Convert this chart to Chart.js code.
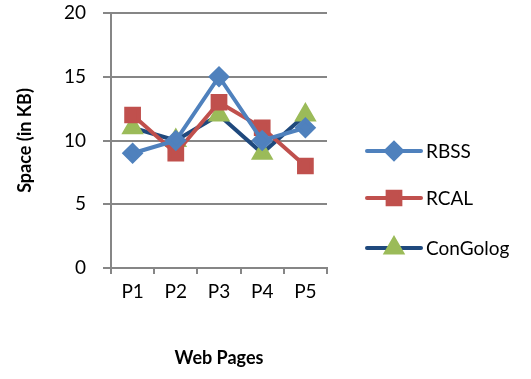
<!DOCTYPE html>
<html lang="en">
<head>
  <meta charset="UTF-8">
  <title>Space per Web Page</title>
  <script src="https://cdn.jsdelivr.net/npm/chart.js"></script>
  <style>
    * { margin: 0; padding: 0; }
    body { background: #ffffff; width: 531px; height: 379px; overflow: hidden; }
    #wrap { position: relative; width: 531px; height: 379px; }
  </style>
</head>
<body>
  <div id="wrap"><canvas id="chart" width="531" height="379"></canvas></div>
  <script>
    const pages = ['P1', 'P2', 'P3', 'P4', 'P5'];
    const rbss = [9, 10, 15, 10, 11];
    const rcal = [12, 9, 13, 11, 8];
    const congolog = [11, 10, 12, 9, 12];
    const yTicks = [0, 5, 10, 15, 20];

    const FONT = 'Lato, "Open Sans", sans-serif';
    const axisGrey = '#868686';

    // legend drawn as line + marker, like the office-style key
    const legendPlugin = {
      id: 'sideLegend',
      afterDraw(chart) {
        const ctx = chart.ctx;
        const area = chart.chartArea;
        const x0 = area.right + 40;
        const rows = [151, 198, 248];
        chart.data.datasets.forEach((ds, i) => {
          const y = rows[i];
          ctx.save();
          ctx.strokeStyle = ds.borderColor;
          ctx.lineWidth = 4;
          ctx.lineCap = 'round';
          ctx.beginPath();
          ctx.moveTo(x0, y);
          ctx.lineTo(x0 + 54, y);
          ctx.stroke();
          ctx.fillStyle = ds.pointBackgroundColor;
          ctx.strokeStyle = ds.pointBorderColor;
          Chart.helpers.drawPoint(ctx, {
            pointStyle: ds.pointStyle,
            radius: ds.pointRadius,
            borderWidth: 1
          }, x0 + 27, y);
          ctx.fillStyle = '#000000';
          ctx.font = '19px ' + FONT;
          ctx.textBaseline = 'middle';
          ctx.fillText(ds.label, x0 + 59, y + 1);
          ctx.restore();
        });
      }
    };

    new Chart(document.getElementById('chart').getContext('2d'), {
      type: 'line',
      data: {
        labels: pages,
        datasets: [
          {
            label: 'RBSS', data: rbss,
            borderColor: '#4F81BD', borderWidth: 4,
            pointStyle: 'rectRot', pointRadius: 8,
            pointBackgroundColor: '#4F81BD', pointBorderColor: '#4F81BD'
          },
          {
            label: 'RCAL', data: rcal,
            borderColor: '#C0504D', borderWidth: 4,
            pointStyle: 'rect', pointRadius: 9,
            pointBackgroundColor: '#C0504D', pointBorderColor: '#C0504D'
          },
          {
            label: 'ConGolog', data: congolog,
            borderColor: '#1F497D', borderWidth: 4,
            pointStyle: 'triangle', pointRadius: 9,
            pointBackgroundColor: '#9BBB59', pointBorderColor: '#9BBB59'
          }
        ]
      },
      options: {
        responsive: false,
        animation: false,
        layout: { padding: { top: 8, right: 204, left: 10, bottom: 6 } },
        plugins: { legend: { display: false }, tooltip: { enabled: false } },
        elements: { line: { tension: 0 } },
        scales: {
          x: {
            offset: true,
            afterFit(axis) { axis.height = 105; },
            grid: { offset: true, drawOnChartArea: false, color: axisGrey, tickLength: 6, lineWidth: 2 },
            border: { color: axisGrey, width: 2 },
            ticks: { color: '#000000', font: { family: FONT, size: 19 }, padding: 6 },
            title: { display: true, text: 'Web Pages', color: '#000000', font: { family: FONT, size: 18, weight: 'bold' }, padding: { top: 40 } }
          },
          y: {
            min: 0, max: 20,
            afterBuildTicks(axis) { axis.ticks = yTicks.map(v => ({ value: v })); },
            afterFit(axis) {
              axis.width = 101;
              axis.paddingTop = 8;
              axis.paddingBottom = 8;
            },
            grid: { color: axisGrey, tickLength: 8, lineWidth: 2 },
            border: { color: axisGrey, width: 2 },
            ticks: { color: '#000000', font: { family: FONT, size: 19 }, padding: 17 },
            title: { display: true, text: 'Space (in KB)', color: '#000000', font: { family: FONT, size: 18, weight: 'bold' }, padding: { bottom: 24 } }
          }
        }
      },
      plugins: [legendPlugin]
    });
  </script>
</body>
</html>
